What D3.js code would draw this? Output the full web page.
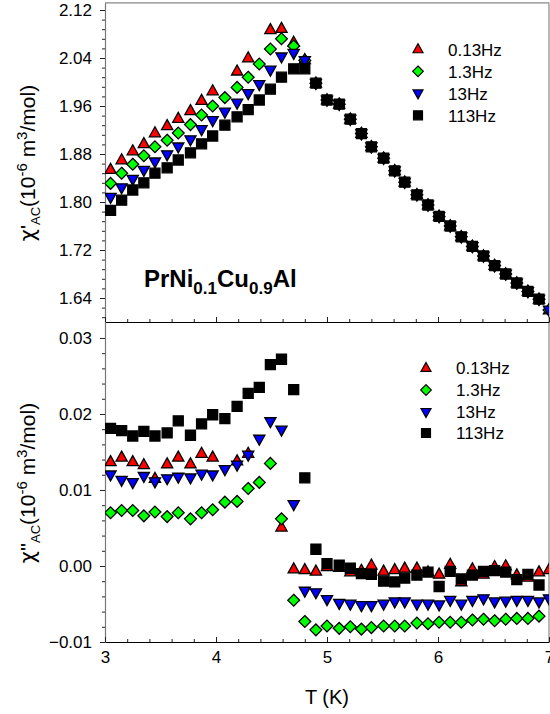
<!DOCTYPE html>
<html>
<head>
<meta charset="utf-8">
<script src="https://cdn.jsdelivr.net/npm/d3@7/dist/d3.min.js"></script>
<style>
  body { margin: 0; background: #fff; }
  svg { display: block; }
  text { font-family: "Liberation Sans", Arial, sans-serif; fill: #000; }
</style>
</head>
<body>
<svg id="chart" width="550" height="714"></svg>
<script>
// Measurement temperatures (K)
const temperature = [3.05, 3.15, 3.25, 3.35, 3.45, 3.56, 3.66, 3.77, 3.87, 3.97,
  4.08, 4.19, 4.29, 4.39, 4.49, 4.59, 4.70, 4.80, 4.90, 5.00,
  5.11, 5.21, 5.31, 5.40, 5.51, 5.61, 5.70, 5.81, 5.91, 6.01,
  6.11, 6.21, 6.31, 6.41, 6.51, 6.61, 6.71, 6.81, 6.91, 7.00];

const frequencies = ["0.13Hz", "1.3Hz", "13Hz", "113Hz"];

// Real part chi'_AC (10^-6 m^3/mol)
const chiRe_013 = [1.854, 1.870, 1.885, 1.897, 1.915, 1.927, 1.939, 1.952, 1.969, 1.985,
  null, 2.018, 2.040, null, 2.087, 2.089, 2.066, 2.037, 1.998, 1.970,
  1.963, 1.938, 1.914, 1.892, 1.873, 1.852, 1.833, 1.812, 1.795, 1.776,
  1.760, 1.742, 1.726, 1.710, 1.694, 1.680, 1.665, 1.651, 1.638, 1.620];
const chiRe_13 = [1.831, 1.848, 1.863, 1.877, 1.892, 1.903, 1.915, 1.929, 1.945, 1.960,
  1.974, 1.991, 2.008, 2.030, 2.055, 2.072, 2.060, 2.036, 1.998, 1.970,
  1.963, 1.938, 1.914, 1.892, 1.873, 1.852, 1.833, 1.812, 1.795, 1.776,
  1.760, 1.742, 1.726, 1.710, 1.694, 1.680, 1.665, 1.651, 1.638, 1.620];
const chiRe_130 = [1.808, 1.824, 1.838, 1.853, 1.867, 1.879, 1.892, 1.904, 1.921, 1.936,
  1.950, 1.965, 1.981, 1.996, 2.020, 2.042, 2.048, 2.036, 1.998, 1.970,
  1.963, 1.938, 1.914, 1.892, 1.873, 1.852, 1.833, 1.812, 1.795, 1.776,
  1.760, 1.742, 1.726, 1.710, 1.694, 1.680, 1.665, 1.651, 1.638, 1.620];
const chiRe_1130 = [1.786, 1.803, 1.820, 1.832, 1.848, 1.857, 1.870, 1.882, 1.897, 1.910,
  1.928, 1.942, 1.954, 1.970, 1.988, 2.008, 2.022, 2.022, 1.998, 1.970,
  1.963, 1.938, 1.914, 1.892, 1.873, 1.852, 1.833, 1.812, 1.795, 1.776,
  1.760, 1.742, 1.726, 1.710, 1.694, 1.680, 1.665, 1.651, 1.638, null];

// Imaginary part chi''_AC (10^-6 m^3/mol)
const chiIm_013 = [0.0137, 0.0143, 0.0137, 0.0133, 0.0115, 0.0134, 0.0143, 0.0134, 0.0148, 0.0143,
  null, 0.0138, 0.0148, null, null, 0.0051, -0.0004, -0.0005, -0.0007, -0.0001,
  -0.0002, -0.0008, -0.0006, 0.0001, -0.0007, -0.0005, -0.0003, -0.0003, -0.0008, -0.0011,
  0.0002, -0.0021, -0.0004, -0.0011, -0.0001, 0.0000, -0.0012, -0.0015, -0.0008, -0.0005];
const chiIm_13 = [0.0070, 0.0073, 0.0073, 0.0066, 0.0071, 0.0065, 0.0070, 0.0062, 0.0070, 0.0074,
  0.0084, 0.0085, 0.0102, 0.0110, 0.0135, 0.0062, -0.0045, -0.0073, -0.0084, -0.0079,
  -0.0082, -0.0080, -0.0083, -0.0081, -0.0079, -0.0079, -0.0079, -0.0075, -0.0076, -0.0074,
  -0.0074, -0.0074, -0.0071, -0.0070, -0.0072, -0.0070, -0.0069, -0.0069, -0.0066, null];
const chiIm_130 = [0.0120, 0.0113, 0.0110, 0.0118, 0.0111, 0.0115, 0.0117, 0.0116, 0.0121, 0.0120,
  0.0127, 0.0133, 0.0146, 0.0167, 0.0190, 0.0179, 0.0081, -0.0033, -0.0035, -0.0044,
  -0.0049, -0.0050, -0.0052, -0.0052, -0.0050, -0.0047, -0.0047, -0.0050, -0.0050, -0.0051,
  -0.0045, -0.0050, -0.0045, -0.0043, -0.0047, -0.0046, -0.0045, -0.0045, -0.0047, -0.0043];
const chiIm_1130 = [0.0181, 0.0178, 0.0171, 0.0177, 0.0171, 0.0175, 0.0191, 0.0172, 0.0187, 0.0199,
  0.0194, 0.0210, 0.0227, 0.0235, 0.0265, 0.0272, 0.0232, 0.0116, 0.0022, 0.0003,
  0.0001, -0.0003, -0.0010, -0.0011, -0.0020, -0.0021, -0.0016, -0.0012, -0.0008, -0.0027,
  -0.0007, -0.0017, -0.0012, -0.0007, -0.0006, -0.0008, -0.0018, -0.0011, -0.0025, null];

// Tick values
const xTicks = [3, 4, 5, 6, 7];
const reTicks = [1.64, 1.72, 1.80, 1.88, 1.96, 2.04, 2.12];
const imTicks = [-0.01, 0.00, 0.01, 0.02, 0.03];

// ---- layout ----
const svg = d3.select("#chart");
const left = 105, right = 549;
const topY = 2.8, midY = 322, botY = 642;

const x = d3.scaleLinear().domain([3, 7]).range([left, right]);
const yRe = d3.scaleLinear().domain([1.60, 2.132]).range([midY, topY]);
const yIm = d3.scaleLinear().domain([-0.01, 0.0321]).range([botY, midY]);

// marker shapes
const shapes = {
  triUp: "M0,-6.2L5.6,3.8L-5.6,3.8Z",
  diamond: "M0,-5.9L5.9,0L0,5.9L-5.9,0Z",
  triDown: "M0,6.2L5.6,-3.8L-5.6,-3.8Z",
  square: "M-5,-5H5V5H-5Z"
};
const series = [
  { name: frequencies[0], color: "#ff0000", shape: "triUp", re: chiRe_013, im: chiIm_013 },
  { name: frequencies[1], color: "#00ff00", shape: "diamond", re: chiRe_13, im: chiIm_13 },
  { name: frequencies[2], color: "#0000ff", shape: "triDown", re: chiRe_130, im: chiIm_130 },
  { name: frequencies[3], color: "#000000", shape: "square", re: chiRe_1130, im: chiIm_1130 }
];

const defs = svg.append("defs");
defs.append("clipPath").attr("id", "clipTop").append("rect")
  .attr("x", left).attr("y", topY).attr("width", right - left).attr("height", midY - topY);
defs.append("clipPath").attr("id", "clipBot").append("rect")
  .attr("x", left).attr("y", midY).attr("width", right - left).attr("height", botY - midY);

function range(a, b, step) {
  const out = [];
  for (let v = a; v <= b + step * 1e-6; v += step) out.push(+v.toFixed(6));
  return out;
}
const xMinor = range(3, 7, 0.2).filter(v => !xTicks.some(t => Math.abs(t - v) < 1e-6));
const reMinor = range(1.608, 2.132, 0.016).filter(v => !reTicks.some(t => Math.abs(t - v) < 1e-6));
const imMinor = range(-0.01, 0.03, 0.002).filter(v => !imTicks.some(t => Math.abs(t - v) < 1e-6));

function styleAxis(g, lineColor) {
  g.select(".domain").attr("stroke", lineColor).attr("stroke-width", 1.2);
  g.selectAll(".tick line").attr("stroke", "#222").attr("stroke-width", 1);
  g.selectAll(".tick text").style("font-size", "17px").attr("fill", "#111");
}

// ---- frame ----
svg.append("line").attr("x1", left).attr("x2", right).attr("y1", topY).attr("y2", topY)
  .attr("stroke", "#888").attr("stroke-width", 1.2);
svg.append("line").attr("x1", right).attr("x2", right).attr("y1", topY).attr("y2", botY)
  .attr("stroke", "#888").attr("stroke-width", 1.2);

// ---- top panel axes ----
const gReMinor = svg.append("g").attr("transform", `translate(${left},0)`)
  .call(d3.axisLeft(yRe).tickValues(reMinor).tickSize(3).tickFormat(""));
gReMinor.select(".domain").remove();
gReMinor.selectAll(".tick line").attr("stroke", "#222");
const gRe = svg.append("g").attr("transform", `translate(${left},0)`)
  .call(d3.axisLeft(yRe).tickValues(reTicks).tickSize(5).tickPadding(8).tickFormat(d3.format(".2f")).tickSizeOuter(0));
styleAxis(gRe, "#777");

// shared divider with inward ticks
const gMidMinor = svg.append("g").attr("transform", `translate(0,${midY})`)
  .call(d3.axisBottom(x).tickValues(xMinor).tickSize(-3).tickFormat(""));
gMidMinor.select(".domain").remove();
gMidMinor.selectAll(".tick line").attr("stroke", "#222");
const gMid = svg.append("g").attr("transform", `translate(0,${midY})`)
  .call(d3.axisBottom(x).tickValues(xTicks).tickSize(-5).tickFormat("").tickSizeOuter(0));
styleAxis(gMid, "#000");

// ---- bottom panel axes ----
const gImMinor = svg.append("g").attr("transform", `translate(${left},0)`)
  .call(d3.axisLeft(yIm).tickValues(imMinor).tickSize(3).tickFormat(""));
gImMinor.select(".domain").remove();
gImMinor.selectAll(".tick line").attr("stroke", "#222");
const gIm = svg.append("g").attr("transform", `translate(${left},0)`)
  .call(d3.axisLeft(yIm).tickValues(imTicks).tickSize(5).tickPadding(8).tickFormat(d3.format(".2f")).tickSizeOuter(0));
styleAxis(gIm, "#777");

const gXMinor = svg.append("g").attr("transform", `translate(0,${botY})`)
  .call(d3.axisBottom(x).tickValues(xMinor).tickSize(-3).tickFormat(""));
gXMinor.select(".domain").remove();
gXMinor.selectAll(".tick line").attr("stroke", "#222");
const gX = svg.append("g").attr("transform", `translate(0,${botY})`)
  .call(d3.axisBottom(x).tickValues(xTicks).tickSize(-5).tickPadding(9).tickFormat(d3.format("d")).tickSizeOuter(0));
styleAxis(gX, "#000");

// ---- data markers ----
function drawPanel(key, yScale, clipId) {
  const g = svg.append("g").attr("clip-path", `url(#${clipId})`);
  series.forEach(s => {
    const pts = temperature.map((t, i) => ({ t, v: s[key][i] })).filter(d => d.v !== null);
    g.append("g").selectAll("path").data(pts).join("path")
      .attr("d", shapes[s.shape])
      .attr("transform", d => `translate(${x(d.t)},${yScale(d.v)})`)
      .attr("fill", s.color)
      .attr("stroke", "#000")
      .attr("stroke-width", 1.3);
  });
}
drawPanel("re", yRe, "clipTop");
drawPanel("im", yIm, "clipBot");

// ---- legends ----
function legend(mx, tx, rows) {
  const g = svg.append("g");
  series.forEach((s, i) => {
    g.append("path").attr("d", shapes[s.shape])
      .attr("transform", `translate(${mx},${rows[i]}) scale(0.9)`)
      .attr("fill", s.color).attr("stroke", "#000").attr("stroke-width", 1.3);
    g.append("text").attr("x", tx).attr("y", rows[i] + 6.3)
      .style("font-size", "17px").text(s.name);
  });
}
legend(418, 448, [49.3, 71.3, 93.3, 115.3]);
legend(426, 456, [368, 390, 412, 433]);

// ---- compound label ----
const comp = svg.append("text").attr("x", 144).attr("y", 286.5)
  .style("font-size", "24px").style("font-weight", "bold");
comp.append("tspan").text("PrNi");
comp.append("tspan").attr("dy", 7).style("font-size", "17px").text("0.1");
comp.append("tspan").attr("dy", -7).text("Cu");
comp.append("tspan").attr("dy", 7).style("font-size", "17px").text("0.9");
comp.append("tspan").attr("dy", -7).text("Al");

// ---- axis titles ----
function yTitle(cy, primes) {
  const t = svg.append("text")
    .attr("transform", `translate(35,${cy}) rotate(-90)`)
    .attr("text-anchor", "middle")
    .style("font-size", "21px");
  t.append("tspan").style("font-family", "'DejaVu Sans', sans-serif").text("\u03C7");
  t.append("tspan").text(primes);
  t.append("tspan").attr("dy", 5).style("font-size", "13px").text("AC");
  t.append("tspan").attr("dy", -5).text("(10");
  t.append("tspan").attr("dy", -8).style("font-size", "15px").text("-6");
  t.append("tspan").attr("dy", 8).text(" m");
  t.append("tspan").attr("dy", -8).style("font-size", "15px").text("3");
  t.append("tspan").attr("dy", 8).text("/mol)");
}
yTitle(163, "'");
yTitle(483, "''");

svg.append("text").attr("x", (left + right) / 2).attr("y", 704)
  .attr("text-anchor", "middle").style("font-size", "20px").text("T (K)");
</script>
</body>
</html>
